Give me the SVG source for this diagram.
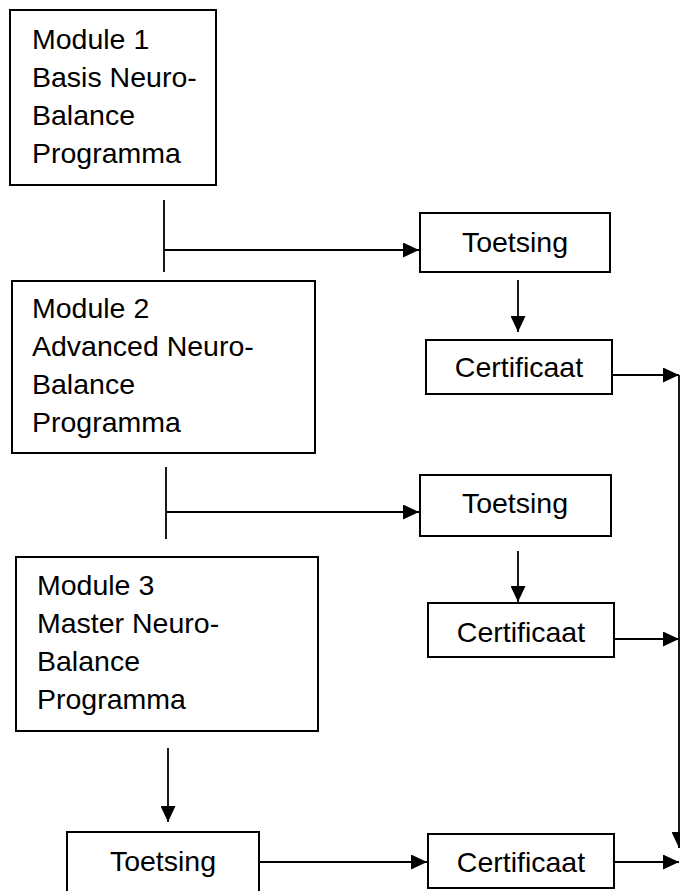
<svg xmlns="http://www.w3.org/2000/svg" width="680" height="891" viewBox="0 0 680 891">
<style>
.box{fill:#fff;stroke:#000;stroke-width:2}
.t{font-family:"Liberation Sans",Arial,sans-serif;font-size:28.5px;fill:#000}
.c{text-anchor:middle}
.ln{stroke:#000;stroke-width:1.8;fill:none}
</style>
<defs>
<marker id="ah" markerWidth="16" markerHeight="15" refX="16" refY="7.5" orient="auto" markerUnits="userSpaceOnUse"><path d="M0,0 L16,7.5 L0,15 Z" fill="#000"/></marker>
</defs>
<rect width="680" height="891" fill="#fff"/>
<g id="module1"><rect class="box" x="10" y="10" width="206" height="175"/>
<text class="t" x="32" y="49">Module 1</text><text class="t" x="32" y="87">Basis Neuro-</text><text class="t" x="32" y="125">Balance</text><text class="t" x="32" y="163">Programma</text></g>
<g id="module2"><rect class="box" x="12" y="281" width="303" height="172"/>
<text class="t" x="32" y="318">Module 2</text><text class="t" x="32" y="356">Advanced Neuro-</text><text class="t" x="32" y="394">Balance</text><text class="t" x="32" y="432">Programma</text></g>
<g id="module3"><rect class="box" x="16" y="557" width="302" height="174"/>
<text class="t" x="37" y="595">Module 3</text><text class="t" x="37" y="633">Master Neuro-</text><text class="t" x="37" y="671">Balance</text><text class="t" x="37" y="709">Programma</text></g>
<g id="toetsing1"><rect class="box" x="420" y="213" width="190" height="59"/><text class="t c" x="515" y="252">Toetsing</text></g>
<g id="certificaat1"><rect class="box" x="426" y="340" width="186" height="54"/><text class="t c" x="519" y="377">Certificaat</text></g>
<g id="toetsing2"><rect class="box" x="420" y="475" width="191" height="61"/><text class="t c" x="515" y="513">Toetsing</text></g>
<g id="certificaat2"><rect class="box" x="428" y="603" width="186" height="54"/><text class="t c" x="521" y="642">Certificaat</text></g>
<g id="toetsing3"><rect class="box" x="67" y="832" width="192" height="70"/><text class="t c" x="163" y="871">Toetsing</text></g>
<g id="certificaat3"><rect class="box" x="428" y="834" width="186" height="54"/><text class="t c" x="521" y="872">Certificaat</text></g>
<g id="connectors">
<line class="ln" x1="164" y1="200" x2="164" y2="272"/>
<line class="ln" x1="164" y1="250" x2="419" y2="250" marker-end="url(#ah)"/>
<line class="ln" x1="518" y1="280" x2="518" y2="332" marker-end="url(#ah)"/>
<line class="ln" x1="612" y1="375" x2="679" y2="375" marker-end="url(#ah)"/>
<line class="ln" x1="166" y1="467" x2="166" y2="539"/>
<line class="ln" x1="166" y1="512" x2="419" y2="512" marker-end="url(#ah)"/>
<line class="ln" x1="518" y1="551" x2="518" y2="602" marker-end="url(#ah)"/>
<line class="ln" x1="614" y1="639" x2="679" y2="639" marker-end="url(#ah)"/>
<line class="ln" x1="168" y1="748" x2="168" y2="822" marker-end="url(#ah)"/>
<line class="ln" x1="260" y1="862" x2="427" y2="862" marker-end="url(#ah)"/>
<line class="ln" x1="614" y1="862" x2="679" y2="862" marker-end="url(#ah)"/>
<line class="ln" x1="679" y1="375" x2="679" y2="848" marker-end="url(#ah)"/>
</g>
</svg>
